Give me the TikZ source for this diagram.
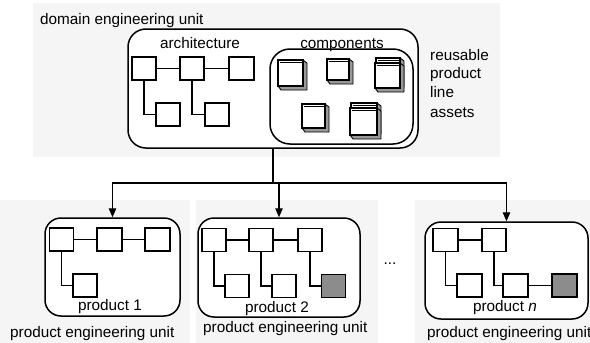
\documentclass[tikz,border=0pt]{standalone}
\usepackage{fontspec}
\setmainfont{Liberation Sans}
\usetikzlibrary{arrows.meta}
\tikzset{
  unitbox/.style={draw, line width=1.5pt, rounded corners=16pt, fill=white, inner sep=0pt},
  archbox/.style={draw, line width=1.3pt, fill=white, inner sep=0pt, minimum width=24pt, minimum height=23pt},
  hotbox/.style={archbox, fill=black!45},
  link/.style={line width=1.2pt},
  feed/.style={line width=1.2pt, -{Triangle[length=9pt,width=7.5pt]}},
  lbl/.style={font=\fontsize{15.3}{18}\selectfont, inner sep=0pt},
  stipple/.style={fill=black!4, draw=none},
}
\newcommand\drawcube[4]{%
  \filldraw[fill=black!40, line width=0.9pt, line join=round]
    (#3,#2) -- (#3+4,#2+3) -- (#3+4,#4+4) -- (#1+3,#4+4) -- (#1,#4) -- cycle;
  \filldraw[fill=white, line width=1.4pt] (#1,#2) rectangle (#3,#4);
  \draw[line width=0.6pt] (#1+1.5,#2+2.5) -- (#3-1.5,#2+2.5);
}
\begin{document}
\begin{tikzpicture}[x=1pt,y=-1pt]
\useasboundingbox (0,0) rectangle (590,343);
% stippled backgrounds
\fill[stipple] (33,3) rectangle (500,157);
\fill[stipple] (0,200) rectangle (190,343);
\fill[stipple] (196,200) rectangle (378,343);
\fill[stipple] (415,200) rectangle (590,343);

% domain engineering unit
\node[lbl, anchor=base west] (domlbl) at (40,24) {domain engineering unit};
\node[unitbox, rounded corners=18pt, minimum width=290pt, minimum height=119pt] (dom) at (273,88.5) {};
\node[unitbox, rounded corners=20pt, minimum width=143pt, minimum height=95pt] (comp) at (341.5,96.5) {};
\node[lbl, anchor=base] (archlbl) at (200,48) {architecture};
\node[lbl, anchor=base] (complbl) at (342,48) {components};

% architecture
\node[archbox] (a1) at (144,68.5) {};
\node[archbox] (a2) at (192,68.5) {};
\node[archbox, minimum width=25pt] (a3) at (241.5,68.5) {};
\node[archbox] (a4) at (168,114.5) {};
\node[archbox] (a5) at (217,114.5) {};
\draw[link] (a1) -- (a2);
\draw[link] (a2) -- (a3);
\draw[link] (a1.south) |- (a4.west);
\draw[link] (a2.south) |- (a5.west);

% components
\drawcube{278}{60}{303}{86}
\drawcube{327}{59}{349}{80}
\drawcube{376}{58}{400}{83}
\drawcube{375}{63}{400}{88}
\drawcube{302}{104}{325}{128}
\drawcube{351}{103}{377}{130}
\drawcube{350}{108}{377}{135}

% reusable assets
\node[lbl, anchor=base west] (r1) at (430,60) {reusable};
\node[lbl, anchor=base west] (r2) at (430,78.5) {product};
\node[lbl, anchor=base west] (r3) at (430,97.5) {line};
\node[lbl, anchor=base west] (r4) at (430,117) {assets};

% product units
\node[unitbox, minimum width=135pt, minimum height=98pt] (prod1) at (112.5,267) {};
\node[unitbox, minimum width=162pt, minimum height=99pt] (prod2) at (279,267.5) {};
\node[unitbox, minimum width=163pt, minimum height=97pt] (prodn) at (506.5,270.5) {};

% product 1
\node[archbox] (p1a) at (61.5,239.5) {};
\node[archbox, minimum width=25pt] (p1b) at (109.5,239.5) {};
\node[archbox, minimum width=25pt] (p1c) at (157.5,239.5) {};
\node[archbox] (p1d) at (85,285.5) {};
\draw[link] (p1a) -- (p1b);
\draw[link] (p1b) -- (p1c);
\draw[link] (p1a.south) |- (p1d.west);
\node[lbl, anchor=base] (p1lbl) at (110,310) {product 1};

% product 2
\node[archbox] (p2a) at (214,240) {};
\node[archbox] (p2b) at (261,240) {};
\node[archbox] (p2c) at (310,240) {};
\node[archbox] (p2d) at (237,286) {};
\node[archbox] (p2e) at (284,286) {};
\node[hotbox] (p2f) at (333.5,286) {};
\draw[link] (p2a) -- (p2b);
\draw[link] (p2b) -- (p2c);
\draw[link] (p2a.south) |- (p2d.west);
\draw[link] (p2b.south) |- (p2e.west);
\draw[link] (p2c.south) |- (p2f.west);
\node[lbl, anchor=base] (p2lbl) at (277,312) {product 2};

% product n
\node[archbox, minimum width=25pt] (pna) at (445.5,240) {};
\node[archbox] (pnb) at (494,240) {};
\node[archbox, minimum width=25pt] (pnc) at (469.5,285.5) {};
\node[archbox, minimum width=25pt] (pnd) at (515.5,285.5) {};
\node[hotbox, minimum width=25pt] (pne) at (564.5,285.5) {};
\draw[link] (pna) -- (pnb);
\draw[link] (pna.south) |- (pnc.west);
\draw[link] (pnb.south) |- (pnd.west);
\draw[link] (pnd) -- (pne);
\node[lbl, anchor=base] (pnlbl) at (505,311) {product \textit{n}};

\node[lbl] (dots) at (390,264) {...};

% unit labels
\node[lbl, anchor=base west] (u1) at (10,337) {product engineering unit};
\node[lbl, anchor=base west] (u2) at (203,332) {product engineering unit};
\node[lbl, anchor=base west] (un) at (427,337) {product engineering unit};

% derivation arrows
\coordinate (j) at (273,183);
\draw[link] (dom.south) -- (j);
\draw[feed] (j) -| (prod1.north);
\draw[feed] (j) -| (prod2.north);
\draw[feed] (j) -| (prodn.north);
\end{tikzpicture}
\end{document}
